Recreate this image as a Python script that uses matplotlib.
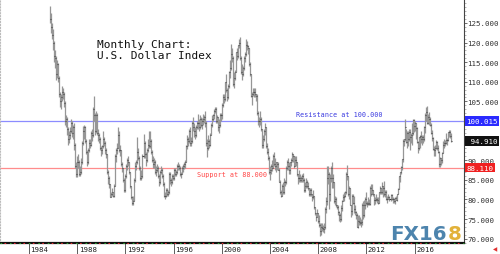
import pandas as pd
import matplotlib.pyplot as plt
import matplotlib.transforms as mtransforms
import numpy as np

# monthly US Dollar Index bars, Oct 1985 .. Jan 2019
start_month = '1985-10'

closes = [
    126.0, 124.0, 122.0,                                                      # 1985 (Oct-Dec)
    120.0, 116.5, 116.0, 112.0, 114.5, 111.0, 107.0, 105.0, 106.0, 107.5, 107.0, 104.5,  # 1986
    100.0, 100.5, 98.0, 95.5, 96.5, 97.5, 99.5, 97.0, 98.5, 94.0, 88.5, 86.5,   # 1987
    89.5, 89.5, 86.5, 87.0, 89.5, 94.5, 97.5, 98.5, 95.0, 92.0, 89.5, 92.5,     # 1988
    94.5, 94.0, 97.0, 96.5, 103.0, 101.5, 97.5, 101.5, 97.0, 96.5, 95.5, 93.0,  # 1989
    92.5, 93.5, 95.5, 94.5, 92.5, 91.5, 87.0, 85.5, 84.0, 80.5, 81.5, 82.0,     # 1990
    81.0, 83.5, 91.0, 92.5, 93.0, 96.5, 92.5, 92.5, 89.0, 88.0, 85.0, 82.5,     # 1991
    86.0, 88.5, 90.0, 89.5, 87.0, 83.5, 80.5, 79.0, 79.5, 85.0, 88.5, 89.5,     # 1992
    92.0, 90.5, 88.0, 85.5, 86.0, 91.0, 94.5, 91.5, 90.0, 92.5, 94.0, 93.5,     # 1993
    95.0, 92.0, 90.0, 89.0, 89.5, 87.0, 87.5, 88.0, 86.0, 84.5, 87.0, 87.5,     # 1994
    86.0, 84.0, 81.0, 81.0, 82.5, 81.5, 82.0, 86.5, 85.0, 84.5, 86.0, 85.5,     # 1995
    87.5, 86.5, 87.0, 88.5, 88.5, 88.0, 86.5, 86.5, 88.0, 88.5, 89.0, 89.5,     # 1996
    93.5, 95.5, 95.0, 97.5, 94.5, 95.0, 99.5, 98.5, 97.5, 96.5, 98.5, 99.5,     # 1997
    99.5, 98.5, 100.5, 99.0, 100.0, 100.5, 101.0, 99.5, 94.5, 93.0, 95.0, 94.0, # 1998
    96.5, 99.0, 100.5, 101.5, 102.5, 103.0, 100.0, 101.0, 98.5, 99.0, 101.5, 101.5,  # 1999
    104.0, 106.0, 105.5, 110.0, 108.0, 106.0, 109.0, 112.5, 113.5, 117.0, 116.0, 109.5,  # 2000
    111.0, 112.5, 117.5, 116.5, 119.5, 120.0, 116.0, 112.5, 112.0, 113.5, 116.0, 117.0,  # 2001
    119.5, 119.0, 118.5, 114.5, 112.0, 106.5, 107.0, 107.5, 107.5, 107.0, 106.5, 102.0,  # 2002
    100.0, 100.0, 100.5, 98.0, 94.0, 95.5, 97.5, 98.5, 93.5, 92.0, 90.5, 87.0,  # 2003
    87.5, 88.5, 88.0, 91.0, 89.0, 88.5, 89.5, 89.0, 87.5, 84.5, 82.0, 81.0,     # 2004
    83.5, 82.0, 84.5, 84.5, 88.0, 89.5, 88.5, 87.5, 89.5, 90.0, 91.5, 91.0,     # 2005
    88.5, 90.0, 89.5, 86.5, 85.5, 85.5, 85.0, 85.5, 86.0, 85.0, 82.5, 83.5,     # 2006
    84.5, 83.5, 83.0, 81.5, 82.5, 81.5, 80.5, 81.0, 78.0, 76.5, 75.5, 76.5,     # 2007
    74.5, 73.5, 72.0, 73.0, 72.8, 72.5, 73.0, 77.5, 79.5, 85.5, 86.5, 81.5,     # 2008
    85.5, 88.0, 85.5, 84.5, 79.5, 80.0, 78.5, 78.0, 76.8, 76.0, 75.0, 77.8,     # 2009
    79.5, 80.5, 81.0, 81.8, 86.5, 86.0, 81.5, 83.0, 78.5, 77.0, 81.0, 79.0,     # 2010
    77.5, 76.8, 76.0, 73.0, 74.5, 74.3, 74.0, 74.2, 78.5, 76.0, 78.5, 80.0,     # 2011
    79.0, 78.8, 79.0, 78.8, 83.0, 81.5, 82.5, 81.3, 79.8, 79.8, 80.2, 79.8,     # 2012
    79.2, 82.0, 83.0, 81.8, 83.5, 83.0, 81.5, 82.0, 80.2, 80.2, 80.7, 80.0,     # 2013
    81.2, 80.0, 80.0, 79.5, 80.4, 79.8, 81.5, 82.7, 86.0, 87.0, 88.4, 90.3,     # 2014
    95.0, 95.3, 98.4, 94.6, 96.9, 95.5, 97.3, 95.8, 96.4, 97.0, 100.2, 98.6,    # 2015
    99.6, 98.2, 94.6, 93.1, 95.9, 96.1, 95.5, 96.0, 95.5, 98.4, 101.5, 102.2,   # 2016
    99.5, 101.1, 100.4, 99.0, 97.0, 95.6, 92.9, 92.7, 93.1, 94.6, 93.1, 92.1,   # 2017
    89.1, 90.6, 90.1, 91.8, 94.0, 94.5, 94.5, 95.1, 95.1, 97.1, 97.3, 96.2,     # 2018
    94.91,                                                                    # 2019 (Jan)
]

highs = [
    129.3, 127.5, 125.0,
    123.5, 120.5, 118.0, 116.5, 115.5, 114.8, 111.5, 107.5, 107.0, 109.0, 108.5, 107.5,
    105.0, 101.5, 101.0, 98.5, 97.5, 98.5, 100.5, 100.0, 99.0, 99.5, 94.5, 89.5,
    91.0, 91.5, 90.0, 88.5, 90.5, 95.0, 98.8, 99.0, 98.7, 95.5, 92.5, 93.0,
    95.5, 95.5, 97.5, 98.0, 103.5, 106.4, 102.0, 102.5, 102.0, 98.0, 97.0, 96.0,
    93.5, 94.0, 97.5, 96.0, 95.0, 93.0, 91.5, 87.5, 86.0, 84.0, 82.0, 83.0,
    82.0, 84.0, 91.5, 93.0, 94.5, 98.5, 97.5, 94.0, 92.5, 89.5, 88.0, 85.5,
    86.5, 89.0, 90.5, 91.0, 89.5, 87.0, 83.5, 81.0, 81.0, 85.5, 89.5, 90.0,
    95.9, 93.0, 91.0, 88.5, 87.5, 91.5, 96.7, 95.0, 92.0, 93.0, 95.5, 97.5,
    97.5, 95.5, 92.5, 91.0, 90.5, 90.0, 88.5, 89.0, 88.5, 86.5, 87.5, 88.5,
    88.0, 86.5, 84.5, 82.0, 83.0, 82.8, 82.5, 87.0, 87.0, 85.5, 86.5, 86.5,
    88.0, 88.0, 87.5, 89.0, 89.5, 89.0, 88.5, 87.0, 88.5, 89.0, 89.5, 90.0,
    93.8, 96.5, 96.0, 98.0, 98.5, 96.0, 100.0, 101.0, 99.5, 98.5, 99.0, 100.0,
    101.8, 100.5, 101.5, 101.0, 100.8, 101.8, 101.5, 102.6, 100.0, 95.5, 96.5, 95.5,
    97.0, 99.5, 101.5, 101.8, 103.0, 103.5, 103.5, 101.5, 101.0, 100.5, 102.0, 102.0,
    104.5, 107.0, 107.0, 110.0, 112.0, 108.5, 109.5, 112.8, 115.5, 119.6, 118.5, 116.5,
    112.5, 113.0, 117.5, 118.5, 119.5, 121.0, 121.4, 116.5, 114.5, 114.0, 116.5, 117.5,
    121.0, 120.5, 119.5, 118.5, 115.0, 112.0, 107.5, 108.5, 108.5, 108.5, 107.0, 107.0,
    102.5, 101.0, 102.5, 101.0, 98.0, 96.5, 98.0, 99.5, 98.5, 94.5, 93.0, 91.0,
    88.5, 89.0, 90.0, 91.6, 92.0, 90.5, 89.5, 89.5, 89.5, 88.0, 85.0, 82.5,
    84.0, 84.5, 85.5, 85.0, 88.5, 90.0, 90.5, 89.5, 89.5, 90.5, 92.0, 91.5,
    91.0, 91.0, 91.0, 89.5, 86.5, 87.5, 86.5, 86.0, 86.5, 86.8, 85.5, 84.5,
    85.5, 85.0, 84.5, 83.0, 82.8, 83.0, 81.5, 82.5, 81.0, 78.0, 76.5, 77.5,
    76.5, 76.0, 74.0, 74.0, 74.0, 73.5, 74.0, 78.0, 80.5, 88.5, 88.5, 87.0,
    86.5, 88.5, 89.5, 86.5, 84.5, 81.0, 80.5, 78.5, 78.5, 77.0, 76.5, 78.5,
    79.8, 81.5, 82.0, 82.2, 87.0, 88.7, 86.0, 83.5, 83.0, 78.5, 81.5, 81.5,
    81.0, 78.5, 77.0, 76.5, 76.0, 76.0, 75.5, 75.0, 79.0, 79.5, 79.8, 80.5,
    81.8, 79.5, 80.5, 80.0, 83.5, 84.0, 84.0, 82.5, 81.5, 80.5, 81.5, 80.5,
    80.5, 82.0, 83.5, 83.0, 84.5, 83.5, 84.7, 82.5, 82.5, 80.8, 81.5, 81.0,
    81.5, 81.3, 80.5, 80.3, 80.5, 81.0, 81.5, 82.9, 86.0, 87.0, 88.5, 90.3,
    95.3, 95.5, 100.4, 98.0, 97.5, 97.5, 98.0, 98.0, 97.0, 99.5, 100.5, 100.5,
    100.0, 99.6, 98.5, 95.0, 96.0, 96.5, 97.5, 96.5, 96.5, 98.7, 102.0, 103.6,
    103.8, 101.8, 102.3, 100.9, 99.5, 97.8, 96.0, 93.6, 93.8, 95.1, 95.0, 93.9,
    92.3, 90.9, 90.6, 92.0, 95.0, 95.5, 95.2, 97.0, 95.7, 97.2, 97.7, 97.7,
    96.9,
]

lows = [
    125.0, 122.5, 121.0,
    118.0, 115.0, 113.5, 110.5, 111.0, 110.0, 106.0, 103.5, 103.0, 105.0, 105.5, 103.5,
    99.0, 98.5, 96.5, 94.0, 94.5, 95.5, 97.0, 96.0, 95.5, 92.5, 88.0, 85.8,
    85.7, 88.0, 86.0, 86.0, 86.5, 89.0, 94.0, 95.5, 94.5, 91.5, 88.5, 89.0,
    92.0, 93.0, 93.5, 95.0, 96.0, 100.0, 96.5, 97.0, 96.5, 95.0, 94.5, 92.5,
    91.0, 91.5, 93.0, 93.5, 91.5, 90.5, 86.5, 84.0, 83.0, 80.5, 80.6, 81.0,
    80.6, 80.6, 83.5, 89.5, 91.5, 93.0, 92.0, 91.0, 88.5, 87.0, 84.5, 82.0,
    82.0, 85.5, 87.5, 88.5, 86.5, 83.0, 80.0, 78.6, 78.6, 79.5, 84.5, 87.5,
    89.0, 90.0, 87.5, 85.0, 85.0, 85.5, 90.5, 90.5, 88.5, 89.5, 92.0, 93.0,
    93.0, 91.5, 89.5, 88.0, 88.0, 86.5, 86.0, 87.0, 85.5, 83.5, 84.0, 86.5,
    85.5, 83.5, 80.5, 80.1, 80.5, 81.0, 81.0, 81.5, 84.0, 83.5, 84.0, 85.0,
    85.0, 86.0, 86.0, 86.5, 87.5, 87.5, 86.0, 85.5, 86.5, 87.0, 87.8, 88.0,
    89.5, 92.9, 93.5, 94.5, 93.5, 93.5, 94.5, 97.5, 96.0, 95.5, 96.0, 98.0,
    98.0, 97.5, 98.0, 98.5, 98.0, 99.0, 99.5, 98.5, 93.5, 90.8, 92.5, 93.0,
    93.5, 96.5, 98.5, 100.0, 100.5, 102.0, 99.5, 99.5, 97.5, 97.0, 98.5, 100.0,
    100.5, 103.5, 104.5, 105.0, 107.5, 105.0, 105.5, 108.5, 111.0, 113.0, 115.0, 109.0,
    108.5, 110.5, 112.5, 115.5, 116.0, 118.5, 115.5, 112.0, 110.5, 111.5, 113.0, 115.0,
    116.5, 118.0, 117.0, 114.0, 111.5, 106.0, 104.0, 106.5, 106.0, 106.0, 105.0, 101.5,
    99.0, 98.5, 99.0, 97.5, 93.0, 93.0, 95.0, 96.5, 93.0, 91.5, 90.0, 86.5,
    85.0, 86.5, 87.2, 88.0, 88.5, 87.5, 87.0, 87.5, 87.5, 84.5, 81.5, 80.6,
    80.8, 81.5, 81.5, 83.5, 84.0, 87.5, 87.5, 86.5, 86.5, 88.5, 89.5, 89.5,
    88.0, 88.5, 88.5, 86.0, 84.0, 84.5, 84.5, 84.5, 84.5, 84.5, 82.0, 82.0,
    83.0, 82.8, 82.5, 81.0, 81.0, 81.0, 79.5, 80.0, 77.5, 76.0, 74.5, 75.5,
    74.0, 73.0, 70.8, 71.0, 72.0, 71.8, 71.5, 72.5, 76.5, 78.5, 84.0, 77.5,
    79.5, 84.5, 83.0, 83.0, 79.0, 78.5, 78.0, 77.5, 76.0, 74.5, 74.2, 74.5,
    77.0, 79.5, 79.5, 80.5, 81.5, 85.0, 81.0, 80.0, 78.5, 75.5, 76.0, 78.8,
    76.5, 76.0, 75.0, 72.9, 72.8, 73.5, 73.5, 73.0, 73.5, 75.0, 75.5, 77.5,
    78.5, 78.0, 78.5, 78.5, 78.5, 81.0, 81.5, 81.0, 78.5, 78.8, 79.5, 79.0,
    78.9, 79.2, 81.5, 81.5, 81.5, 80.5, 81.0, 80.5, 79.8, 79.0, 80.0, 79.7,
    79.7, 79.8, 79.2, 79.0, 78.9, 79.8, 79.7, 81.3, 82.7, 84.5, 86.5, 87.5,
    89.5, 93.5, 94.8, 94.5, 93.0, 93.5, 95.0, 92.6, 94.5, 93.8, 96.5, 97.2,
    97.5, 95.3, 94.5, 91.9, 92.5, 93.0, 94.5, 94.0, 94.5, 95.0, 97.0, 100.0,
    99.2, 99.2, 99.0, 98.6, 96.8, 95.0, 92.6, 91.0, 91.0, 92.8, 92.5, 91.8,
    88.4, 88.2, 88.9, 89.2, 91.8, 93.2, 93.7, 94.1, 93.8, 94.8, 96.0, 95.7,
    94.6,
]

resistance = 100.015
support = 88.110
last_price = 94.910
resistance_label = 'Resistance at 100.000'
support_label = 'Support at 88.000'
year_ticks = [1984, 1988, 1992, 1996, 2000, 2004, 2008, 2012, 2016]
price_ticks = [70, 75, 80, 85, 90, 95, 100, 105, 110, 115, 120, 125]
hidden_price_ticks = [95, 100]

dates = pd.date_range(start_month, periods=len(closes), freq='MS')
xs = np.array(dates.year + (dates.month - 1) / 12.0)

fig = plt.figure(figsize=(5, 2.55), dpi=100)
ax = fig.add_axes([0, 11 / 255, 464 / 500, 244 / 255])
ax.set_xlim(1981.59, 2020.1)
ax.set_ylim(68.9, 131.1)

# HLC bars
ax.vlines(xs, lows, highs, color='#969696', lw=0.9, zorder=3)
ax.hlines(closes, xs, xs + 1 / 12, color='#404040', lw=0.8, zorder=4)

# support / resistance
ax.axhline(resistance, color='#8c8cff', lw=0.9, zorder=2)
ax.axhline(support, color='#ff8c8c', lw=0.9, zorder=2)
ax.text(2006.15, resistance + 0.9, resistance_label, color='#3a3ae0',
        fontsize=4.9, family='DejaVu Sans Mono', va='bottom', ha='left')
ax.text(1997.9, support - 0.8, support_label, color='#ff4545',
        fontsize=4.9, family='DejaVu Sans Mono', va='top', ha='left')

# title
ax.text(0.209, 1 - 48 / 244, 'Monthly Chart:', transform=ax.transAxes,
        fontsize=8, family='DejaVu Sans Mono', va='baseline', color='#111111')
ax.text(0.209, 1 - 59 / 244, 'U.S. Dollar Index', transform=ax.transAxes,
        fontsize=8, family='DejaVu Sans Mono', va='baseline', color='#111111')

# right price axis
ax.yaxis.tick_right()
ax.set_yticks(price_ticks)
ax.set_yticklabels(['' if p in hidden_price_ticks else f'{p:.3f}' for p in price_ticks])
ax.set_yticks(np.arange(69, 131, 1), minor=True)
ax.tick_params(axis='y', which='major', length=2, width=0.6, color='#555555', pad=0.5,
               labelsize=5.4, labelcolor='#333333')
ax.tick_params(axis='y', which='minor', length=1.2, width=0.5, color='#999999')
for lab in ax.get_yticklabels():
    lab.set_family('DejaVu Sans Mono')

trans = mtransforms.blended_transform_factory(ax.transAxes, ax.transData)
boxes = [(resistance, f'{resistance:.3f}', '#2a2aff'),
         (last_price, f'{last_price:.3f}'.rjust(7), '#111111'),
         (support, f'{support:.3f}', '#f02020')]
for val, txt, col in boxes:
    ax.text(1.005, val, txt, transform=trans, fontsize=5.4, family='DejaVu Sans Mono',
            color='white', va='center', ha='left', clip_on=False,
            bbox=dict(boxstyle='square,pad=0.22', fc=col, ec='none'))

# time axis
ax.set_xticks(year_ticks)
ax.set_xticklabels([])
ax.tick_params(axis='x', length=10, width=0.6, color='#444444', direction='out')
for yr in year_ticks:
    ax.text(yr + 0.12, -0.025, str(yr), transform=ax.get_xaxis_transform(),
            fontsize=5.3, family='DejaVu Sans Mono', color='#222222',
            va='center', ha='left', clip_on=False)

ax.spines['top'].set_visible(False)
ax.spines['left'].set_color('#bbbbbb')
ax.spines['left'].set_linestyle(':')
ax.spines['right'].set_color('#444444')
ax.spines['right'].set_linewidth(0.8)
ax.spines['bottom'].set_color('#111111')
ax.spines['bottom'].set_linewidth(1.6)
ax.plot([1981.6, 2020.1], [68.9, 68.9], color='#2e9e2e', lw=0.8, dashes=(1.5, 7),
        clip_on=False, zorder=5)
ax.plot([1981.9, 2020.1], [68.9, 68.9], color='#e03030', lw=0.8, dashes=(1.5, 7),
        clip_on=False, zorder=5)

# FX168 logo, the "8" placed right after "FX16"
logo = ax.text(390 / 464, 1 - 240 / 244, 'FX16', transform=ax.transAxes, fontsize=14.3,
               fontweight='bold', color='#4d84ad', va='baseline', ha='left')
fig.canvas.draw()
bb = logo.get_window_extent().transformed(ax.transAxes.inverted())
ax.text(bb.x1 + 0.002, 1 - 240 / 244, '8', transform=ax.transAxes, fontsize=14.3,
        fontweight='bold', color='#e2b23a', va='baseline', ha='left')

fig.text(0.99, 0.022, '\u25c0', color='#e03030', fontsize=4, ha='center', va='center')

fig.savefig('out.png', dpi=100, facecolor='white')
